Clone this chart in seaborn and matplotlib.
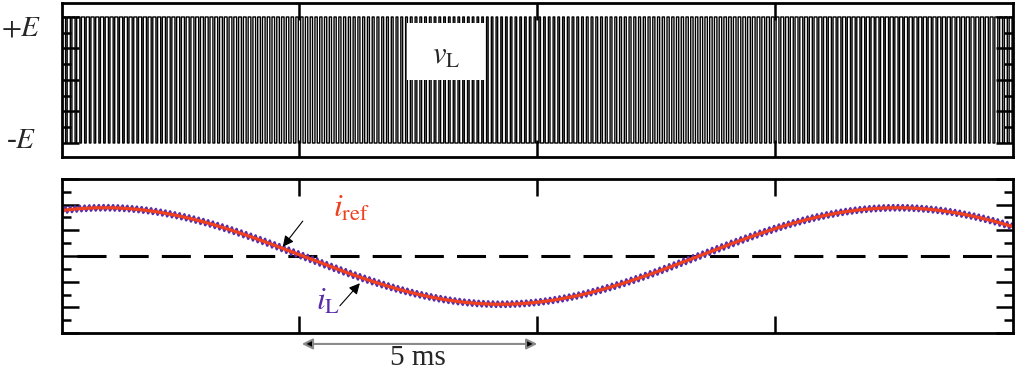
import numpy as np
import matplotlib
matplotlib.use('Agg')
import matplotlib.pyplot as plt
import matplotlib.transforms as mtransforms
from matplotlib.patches import Rectangle
from matplotlib.ticker import MultipleLocator, NullLocator
import seaborn as sns

# --- signal parameters ---
t_end_ms = 20.0            # x axis span, ms
grid_period_ms = 1000 / 60  # 60 Hz reference current
t_peak_ms = 0.9            # first positive peak of i_ref
i_amp = 0.94               # i_ref amplitude (axis is +-1.5)
m_index = 0.35             # modulation index of the PWM
sw_period_ms = 0.1         # 10 kHz switching
ripple_amp = 0.06          # peak ripple of i_L
x_ticks = [5, 10, 15]
dim_start, dim_end = 5, 10  # "5 ms" dimension

red = '#ef4020'
purple = '#5a2ca8'

sns.set_style('ticks')
plt.rcParams['font.family'] = ['Liberation Serif', 'DejaVu Serif']
plt.rcParams['mathtext.fontset'] = 'stix'


def iref(t):
    return i_amp * np.cos(2 * np.pi * (t - t_peak_ms) / grid_period_ms)


# regular-sampled bipolar PWM and the matching inductor current
n_sw = int(round(t_end_ms / sw_period_ms))
tc = (np.arange(n_sw) + 0.5) * sw_period_ms
r = np.cos(2 * np.pi * (tc - t_peak_ms) / grid_period_ms)
d = (1 + m_index * r) / 2 * sw_period_ms
T = sw_period_ms

v_t = np.column_stack([tc - T / 2, tc - d / 2, tc - d / 2, tc + d / 2, tc + d / 2, tc + T / 2]).ravel()
v_y = np.tile([-1, -1, 1, 1, -1, -1], n_sw)

A = ripple_amp * (1 - (m_index * r) ** 2)
il_t = np.column_stack([tc - T / 2, tc - d / 2, tc + d / 2, tc + T / 2]).ravel()
il_off = np.column_stack([np.zeros(n_sw), -A, A, np.zeros(n_sw)]).ravel()
il_y = iref(il_t) + il_off

t_smooth = np.linspace(0, t_end_ms, 2001)

fig = plt.figure(figsize=(10.15, 3.74), dpi=100)
ax1 = fig.add_axes([0.0607, 0.5789, 0.9373, 0.4144])
ax2 = fig.add_axes([0.0607, 0.1096, 0.9373, 0.4118])

# top: v_L
sns.lineplot(x=v_t, y=v_y, ax=ax1, estimator=None, sort=False, color='black', lw=1.0)
ax1.set_ylim(-1.23, 1.23)
ax1.add_patch(Rectangle((0.363, 0.50), 0.082, 0.368, transform=ax1.transAxes,
                        fc='white', ec='none', zorder=5))
ax1.text(0.404, 0.65, r'$v_{\rm L}$', transform=ax1.transAxes, ha='center', va='center',
         fontsize=22, zorder=6)

# bottom: currents
sns.lineplot(x=il_t, y=il_y, ax=ax2, estimator=None, sort=False, color=purple, lw=1.8)
sns.lineplot(x=t_smooth, y=iref(t_smooth), ax=ax2, estimator=None, sort=False, color=red, lw=2.3)
ax2.axhline(0, xmin=0.016, xmax=0.984, color='black', lw=2.2, dashes=(9.5, 4.3), zorder=1)
ax2.set_ylim(-1.5, 1.5)

for ax, step in [(ax1, 0.25), (ax2, 0.25)]:
    ax.set_xlim(0, t_end_ms)
    ax.set_xticks(x_ticks)
    ax.xaxis.set_minor_locator(NullLocator())
    ax.yaxis.set_major_locator(MultipleLocator(2 * step))
    ax.yaxis.set_minor_locator(MultipleLocator(step))
    ax.tick_params(which='both', direction='in', top=True, right=True, bottom=True, left=True,
                   labelleft=False, labelbottom=False, width=1.8, color='black')
    ax.tick_params(axis='y', which='major', length=12)
    ax.tick_params(axis='y', which='minor', length=6.5)
    ax.tick_params(axis='x', which='major', length=12)
    ax.set_xlabel('')
    ax.set_ylabel('')
    for s in ax.spines.values():
        s.set_linewidth(2.0)
        s.set_color('black')
        s.set_visible(True)

fig.text(0.021, 0.925, r'$+E$', ha='center', va='center', fontsize=21)
fig.text(0.021, 0.623, '-$E$', ha='center', va='center', fontsize=21)

# annotations
arrow = dict(arrowstyle='-|>', color='black', lw=0.8, mutation_scale=16, shrinkA=0, shrinkB=0)
ax2.annotate('', xy=(4.65, 0.18), xytext=(5.07, 0.68), arrowprops=arrow)
ax2.text(6.1, 0.92, r'$i_{\rm ref}$', color=red, ha='center', va='center', fontsize=23)
ax2.annotate('', xy=(6.27, -0.53), xytext=(5.85, -0.97), arrowprops=arrow)
ax2.text(5.6, -0.9, r'$i_{\rm L}$', color=purple, ha='center', va='center', fontsize=23)

blend = mtransforms.blended_transform_factory(ax2.transData, ax2.transAxes)
ax2.annotate('', xy=(dim_end, -0.071), xytext=(dim_start + 0.05, -0.071), xycoords=blend,
             textcoords=blend,
             arrowprops=dict(arrowstyle='<|-|>', ec='#8a8a8a', fc='black', lw=1.5,
                             mutation_scale=16, shrinkA=0, shrinkB=0), annotation_clip=False)
ax2.text((dim_start + dim_end) / 2, -0.16, f'{dim_end - dim_start} ms', transform=blend,
         ha='center', va='center', fontsize=21)

fig.savefig('out.png', dpi=100)
